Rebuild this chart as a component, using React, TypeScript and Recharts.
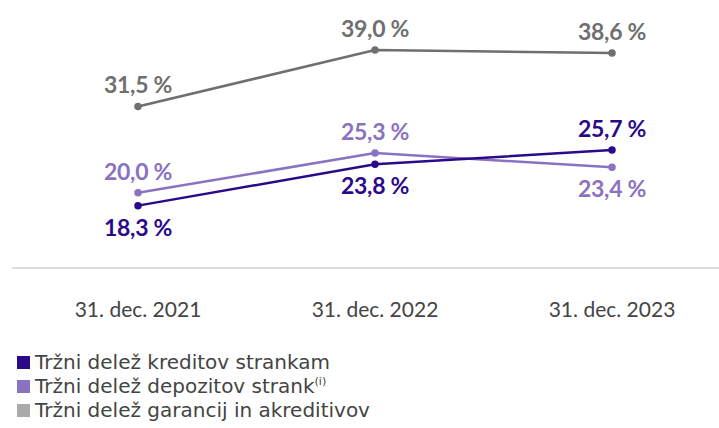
import { LineChart, Line, XAxis, YAxis, LabelList } from "recharts";

const categories = ["31. dec. 2021", "31. dec. 2022", "31. dec. 2023"];
const loans = [18.3, 23.8, 25.7];
const deposits = [20.0, 25.3, 23.4];
const guarantees = [31.5, 39.0, 38.6];

// label placement per point: true = above
const loansAbove = [false, false, true];
const depositsAbove = [true, true, false];
const guaranteesAbove = [true, true, true];

const data = categories.map((name, i) => ({
  name,
  loans: loans[i],
  deposits: deposits[i],
  guarantees: guarantees[i],
}));

const DARK = "#2b0a8a";
const LIGHT = "#8a72c2";
const GRAY = "#6f6f6f";
const FONT = "Lato, 'Open Sans', sans-serif";

function fmt(v: number) {
  return v.toFixed(1).replace(".", ",") + " %";
}

function makeLabel(color: string, above: boolean[]) {
  return (props: any) => {
    const { x, y, value, index } = props;
    const up = above[index];
    return (
      <text
        x={x}
        y={up ? y - 13 : y + 30}
        textAnchor="middle"
        fill={color}
        fontSize={23}
        fontWeight={700}
        fontFamily={FONT}
        letterSpacing={-0.3}
      >
        {fmt(value)}
      </text>
    );
  };
}

const legend = [
  { color: DARK, text: "Tržni delež kreditov strankam", sup: "" },
  { color: LIGHT, text: "Tržni delež depozitov strank", sup: "(i)" },
  { color: "#aaaaaa", text: "Tržni delež garancij in akreditivov", sup: "" },
];

export default function App() {
  return (
    <div style={{ position: "absolute", left: 0, top: 0, width: 719, height: 428, background: "#fff" }}>
      <LineChart
        width={719}
        height={330}
        data={data}
        margin={{ top: 5, right: 0, left: 12, bottom: 0 }}
      >
        <XAxis
          dataKey="name"
          height={62}
          tickLine={false}
          axisLine={{ stroke: "#bdbdbd", strokeWidth: 1 }}
          padding={{ left: 126, right: 107 }}
          tick={{ fill: "#444", fontSize: 21, fontFamily: FONT }}
          tickMargin={28}
        />
        <YAxis hide domain={[10, 45]} />
        <Line
          dataKey="guarantees"
          stroke={GRAY}
          strokeWidth={2.5}
          dot={{ r: 2.5, fill: GRAY, stroke: GRAY }}
          isAnimationActive={false}
        >
          <LabelList dataKey="guarantees" content={makeLabel(GRAY, guaranteesAbove)} />
        </Line>
        <Line
          dataKey="deposits"
          stroke={LIGHT}
          strokeWidth={2.5}
          dot={{ r: 2.5, fill: LIGHT, stroke: LIGHT }}
          isAnimationActive={false}
        >
          <LabelList dataKey="deposits" content={makeLabel(LIGHT, depositsAbove)} />
        </Line>
        <Line
          dataKey="loans"
          stroke={DARK}
          strokeWidth={2.5}
          dot={{ r: 2.5, fill: DARK, stroke: DARK }}
          isAnimationActive={false}
        >
          <LabelList dataKey="loans" content={makeLabel(DARK, loansAbove)} />
        </Line>
      </LineChart>
      <div style={{ position: "absolute", left: 17, top: 350, fontFamily: "'DejaVu Sans', sans-serif", fontSize: 20, color: "#444" }}>
        {legend.map((l) => (
          <div key={l.text} style={{ display: "flex", alignItems: "center", height: 24 }}>
            <span style={{ width: 13, height: 13, background: l.color, marginRight: 5, display: "inline-block", flexShrink: 0 }} />
            <span style={{ lineHeight: "24px" }}>
              {l.text}
              {l.sup && <sup style={{ fontSize: 11, lineHeight: 0 }}>{l.sup}</sup>}
            </span>
          </div>
        ))}
      </div>
    </div>
  );
}
